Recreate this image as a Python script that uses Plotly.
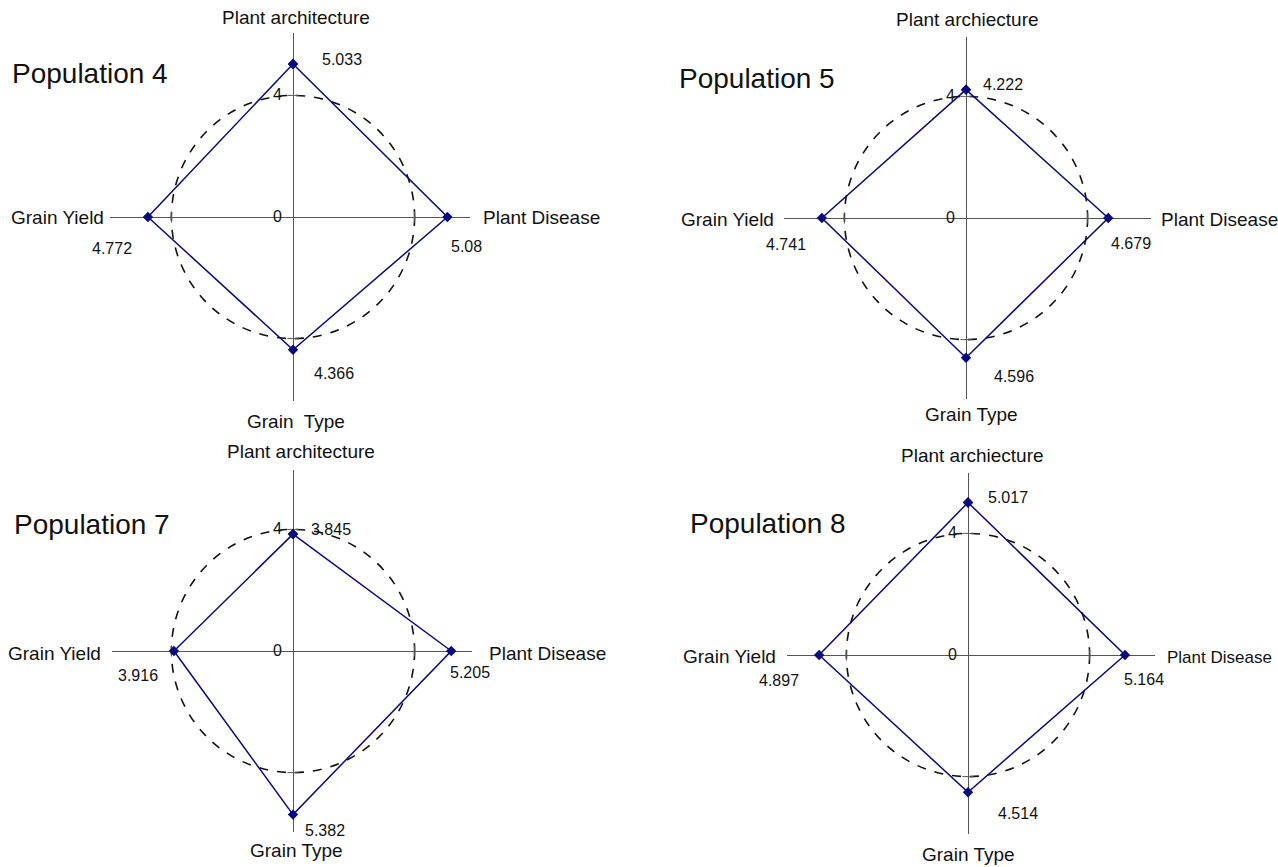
import plotly.graph_objects as go

W, H = 1278, 867
S = 30.4  # pixels per unit, same in every panel

# ── Data ───────────────────────────────────────────────────────────────────────
POPULATIONS = ["Population 4", "Population 5", "Population 7", "Population 8"]
PLANT_ARCH = [5.033, 4.222, 3.845, 5.017]
PLANT_DISEASE = [5.08, 4.679, 5.205, 5.164]
GRAIN_TYPE = [4.366, 4.596, 5.382, 4.514]
GRAIN_YIELD = [4.772, 4.741, 3.916, 4.897]
TOP_NAMES = ["Plant architecture", "Plant archiecture", "Plant architecture", "Plant archiecture"]
BOTTOM_NAMES = ["Grain\u00a0 Type", "Grain Type", "Grain Type", "Grain Type"]
LEFT_NAME = "Grain Yield"
RIGHT_NAME = "Plant Disease"
RING = 4
RING_TICKS = ["0", "4"]

# ── Layout (pixel geometry of each panel) ──────────────────────────────────────
# centre, axis-line box (x0, x1, y0 top, y1 bottom)
GEOM = [
    dict(c=(293, 217), box=(110, 470, 33, 401), title=(90, 73),
         top=(296, 17), bottom=(296, 421), left=(57, 218), right=(541, 218), rsize=19,
         off=[(49, -5), (19, 29), (41, 24), (-36, 31)]),
    dict(c=(966, 218), box=(784, 1151, 37, 399), title=(757, 78),
         top=(967, 20), bottom=(971, 415), left=(727, 219), right=(1219, 219), rsize=19,
         off=[(37, -5), (23, 25), (48, 19), (-36, 26)]),
    dict(c=(293, 651), box=(112, 472, 470, 832), title=(92, 524),
         top=(301, 452), bottom=(296, 850), left=(55, 653), right=(547, 653), rsize=19,
         off=[(38, -5), (19, 21), (32, 16), (-36, 24)]),
    dict(c=(968, 655), box=(787, 1155, 473, 834), title=(768, 523),
         top=(972, 455), bottom=(969, 854), left=(729, 656), right=(1219, 657), rsize=17,
         off=[(40, -5), (19, 24), (50, 21), (-40, 25)]),
]

FONT = "Liberation Sans, Arial, sans-serif"
NAVY = "#0a0a80"
AXIS = "#555555"


def paper(px, py):
    return px / W, 1 - py / H


fig = go.Figure()
annotations = []
shapes = []

for i, name in enumerate(POPULATIONS):
    g = GEOM[i]
    cx, cy = g["c"]
    x0, x1, y0, y1 = g["box"]
    sfx = "" if i == 0 else str(i + 1)
    xr, yr = "x" + sfx, "y" + sfx

    fig.update_layout({
        "xaxis" + sfx: dict(domain=[x0 / W, x1 / W], range=[(x0 - cx) / S, (x1 - cx) / S],
                            showgrid=False, showticklabels=False, zeroline=True,
                            zerolinecolor=AXIS, zerolinewidth=1, fixedrange=True,
                            anchor=yr),
        "yaxis" + sfx: dict(domain=[1 - y1 / H, 1 - y0 / H], range=[(cy - y1) / S, (cy - y0) / S],
                            showgrid=False, showticklabels=False, zeroline=True,
                            zerolinecolor=AXIS, zerolinewidth=1, fixedrange=True,
                            anchor=xr),
    })

    # reference ring at value 4
    shapes.append(dict(type="circle", xref=xr, yref=yr, x0=-RING, x1=RING, y0=-RING, y1=RING,
                       line=dict(color="#111111", width=1.6, dash="dash"), layer="below"))

    # ticks at 4 on each axis
    fig.add_trace(go.Scatter(x=[0, 0], y=[RING, -RING], xaxis=xr, yaxis=yr, mode="markers",
                             marker=dict(symbol="line-ew", size=8, line=dict(color=AXIS, width=1)),
                             hoverinfo="skip", showlegend=False))
    fig.add_trace(go.Scatter(x=[RING, -RING], y=[0, 0], xaxis=xr, yaxis=yr, mode="markers",
                             marker=dict(symbol="line-ns", size=8, line=dict(color=AXIS, width=1)),
                             hoverinfo="skip", showlegend=False))

    vals = [PLANT_ARCH[i], PLANT_DISEASE[i], GRAIN_TYPE[i], GRAIN_YIELD[i]]
    px_ = [0, PLANT_DISEASE[i], 0, -GRAIN_YIELD[i]]
    py_ = [PLANT_ARCH[i], 0, -GRAIN_TYPE[i], 0]
    fig.add_trace(go.Scatter(x=px_ + px_[:1], y=py_ + py_[:1], xaxis=xr, yaxis=yr,
                             mode="lines+markers",
                             line=dict(color=NAVY, width=1.5),
                             marker=dict(symbol="diamond", size=8, color=NAVY),
                             hoverinfo="skip", showlegend=False))

    # value labels next to each point
    for v, xv, yv, (dx, dy) in zip(vals, px_, py_, g["off"]):
        annotations.append(dict(x=xv, y=yv, xref=xr, yref=yr, text=f"{v:g}", showarrow=False,
                                xshift=dx, yshift=-dy, font=dict(size=16, color="#111")))

    # ring tick labels
    for t in RING_TICKS:
        annotations.append(dict(x=0, y=float(t), xref=xr, yref=yr, text=t, showarrow=False,
                                xanchor="right", xshift=-9, yshift=1,
                                font=dict(size=16, color="#111")))

    # axis names and panel title
    for key, txt, size in [("top", TOP_NAMES[i], 19), ("bottom", BOTTOM_NAMES[i], 19),
                           ("left", LEFT_NAME, 19), ("right", RIGHT_NAME, g["rsize"]),
                           ("title", name, 28)]:
        ax, ay = paper(*g[key])
        annotations.append(dict(x=ax, y=ay, xref="paper", yref="paper", text=txt,
                                showarrow=False, xanchor="center", yanchor="middle",
                                font=dict(size=size, color="#111")))

fig.update_layout(
    width=W, height=H,
    margin=dict(l=0, r=0, t=0, b=0),
    paper_bgcolor="white", plot_bgcolor="white",
    font=dict(family=FONT, color="#111"),
    showlegend=False,
    annotations=annotations,
    shapes=shapes,
)

fig.write_html("out.html", config={"displayModeBar": False},
               post_script="document.body.style.margin='0';")
